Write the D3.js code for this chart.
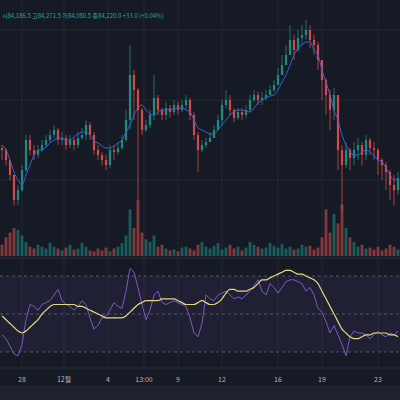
<!DOCTYPE html>
<html><head><meta charset="utf-8">
<script src="https://cdn.jsdelivr.net/npm/d3@7"></script>
<style>body{margin:0;background:#161a25;}svg{display:block;}</style>
</head><body><div id="chart"></div>
<script>
// Price levels (chart units), one candle per step
const closes = [110,100,85,60,70,90,120,110,105,110,115,120,125,130,120,122,115,120,115,122,125,135,125,110,105,100,95,110,108,112,120,140,185,170,150,130,135,145,162,150,145,152,148,155,150,155,160,145,125,110,115,118,122,130,140,155,160,150,142,148,145,150,160,165,160,162,165,170,175,185,195,205,220,210,222,225,230,220,215,200,180,165,150,165,110,95,110,102,110,115,105,120,112,110,100,95,88,75,70,82];
const highs = [115,112,100,85,75,95,125,125,115,115,120,125,130,135,132,128,125,125,122,128,132,140,138,128,115,108,105,115,115,118,125,150,215,190,172,152,140,150,185,165,152,158,155,160,158,160,165,162,148,128,120,122,128,135,145,160,170,165,152,152,152,155,165,170,168,168,170,175,180,192,205,215,235,225,230,235,240,235,225,218,200,182,170,172,150,115,118,112,118,122,118,125,122,118,112,102,98,90,85,88];
const lows = [100,95,80,55,55,68,88,105,100,102,108,112,118,122,115,115,110,112,110,112,120,120,120,105,100,95,90,92,100,105,110,118,130,140,60,125,128,132,140,145,140,140,142,145,145,148,150,140,120,88,108,112,118,125,132,135,152,145,138,140,140,142,148,158,155,155,160,165,168,175,185,195,205,200,208,215,220,212,205,190,160,145,130,140,90,50,92,90,95,100,95,100,105,100,85,80,70,60,55,65];
const priceMA = [115,110,100,88,80,75,85,95,105,110,110,113,117,120,122,122,120,120,123,126,128,128,125,119,117,114,112,112,114,117,120,128,135,145,152,155,150,146,145,148,150,150,150,151,152,152,150,148,140,132,130,128,126,126,130,135,140,145,148,150,150,149,148,152,157,160,162,164,165,170,178,185,195,205,212,215,218,218,210,205,190,178,165,150,140,125,115,108,105,105,108,110,108,104,100,98,92,85,80,82];
const volumes = [12,20,25,30,28,22,15,10,8,12,10,8,14,10,8,6,9,12,7,8,14,10,6,5,8,6,9,5,8,10,14,22,50,30,60,25,18,15,22,10,12,8,6,7,5,9,10,8,6,12,15,10,8,11,14,7,9,12,8,10,6,9,15,12,10,8,9,14,11,9,13,8,10,7,8,12,10,11,7,9,20,50,25,45,35,55,30,20,15,10,12,8,9,7,10,6,8,12,10,7];
const rsi = [39,37,33,29,28,34,47,55,54,52,55,56,57,60,63,57,55,54,52,54,57,55,48,42,44,48,49,52,56,54,53,62,74,72,64,55,47,52,60,62,56,55,56,57,56,55,54,48,40,38,45,60,58,57,60,61,62,60,58,59,58,60,62,65,68,62,60,66,64,61,64,67,68,68,67,66,62,64,60,53,51,46,40,44,39,34,28,38,41,40,40,39,37,39,41,39,38,40,39,41];
const rsiMA = [49,47,45,43,41,40,41,43,45,47,50,52,54,55,55,55,55,55,55,54,54,53,52,51,50,49,48,48,48,48,48,49,51,53,55,56,57,57,57,57,58,58,58,58,57,56,55,55,55,56,57,56,55,55,56,58,61,63,63,62,62,62,63,64,66,68,68,69,70,71,72,73,73,72,71,71,70,69,68,66,62,58,54,50,46,42,40,38,37,37,38,39,39,40,40,40,40,39,39,38];
const timeLabels = ['28','12월','4','13:00','9','12','16','19','23'];
const timeLabelIdx = [5.5,16,27,36,44.5,55.5,69.5,80.5,94.5];
const header = '시84,186.5  고84,271.5  저84,080.5  종84,220.0  +33.0 (+0.04%)';

const W = 400, H = 400;
const up = '#1d8c7e', down = '#d24b49';
const svg = d3.select('#chart').append('svg').attr('width', W).attr('height', H);
svg.append('rect').attr('width', W).attr('height', H).attr('fill', '#161a25');
svg.append('rect').attr('y', 385).attr('width', W).attr('height', 15).attr('fill', '#1e222d');

const x = d3.scaleLinear().domain([0, closes.length]).range([0, 400]);
const y = d3.scaleLinear().domain([0, 260]).range([260, 0]);
const yVol = d3.scaleLinear().domain([0, 60]).range([256, 200]);
const yRsi = d3.scaleLinear().domain([30, 70]).range([352, 276]);
const opens = closes.map((c, i) => i === 0 ? 112 : closes[i - 1]);
const isUp = i => closes[i] >= opens[i];

// grid
svg.append('g').selectAll('line').data(timeLabelIdx).join('line')
  .attr('x1', d => x(d)).attr('x2', d => x(d)).attr('y1', 0).attr('y2', 368)
  .attr('stroke', '#222632');
svg.append('g').selectAll('line').data([80, 160, 230]).join('line')
  .attr('x1', 0).attr('x2', W).attr('y1', d => y(d)).attr('y2', d => y(d))
  .attr('stroke', '#222632');

// volume
svg.append('g').selectAll('rect').data(volumes).join('rect')
  .attr('x', (d, i) => x(i) + 0.6).attr('width', 2.8)
  .attr('y', d => yVol(d)).attr('height', d => 256 - yVol(d))
  .attr('fill', (d, i) => isUp(i) ? up : down).attr('opacity', 0.6);

// candles
const c = svg.append('g').selectAll('g').data(closes).join('g');
c.append('line')
  .attr('x1', (d, i) => x(i + 0.5)).attr('x2', (d, i) => x(i + 0.5))
  .attr('y1', (d, i) => y(highs[i])).attr('y2', (d, i) => y(lows[i]))
  .attr('stroke', (d, i) => isUp(i) ? up : down).attr('stroke-width', 0.8);
c.append('rect')
  .attr('x', (d, i) => x(i) + 0.9).attr('width', 2.2)
  .attr('y', (d, i) => y(Math.max(d, opens[i])))
  .attr('height', (d, i) => Math.max(1, Math.abs(y(d) - y(opens[i]))))
  .attr('fill', (d, i) => isUp(i) ? up : down);

svg.append('path').datum(priceMA)
  .attr('d', d3.line().x((d, i) => x(i + 0.5)).y(d => y(d)).curve(d3.curveMonotoneX))
  .attr('fill', 'none').attr('stroke', '#3b5fd0').attr('stroke-width', 1);

// pane separators
svg.append('line').attr('x1', 0).attr('x2', W).attr('y1', 258).attr('y2', 258).attr('stroke', '#2a2e39');
svg.append('line').attr('x1', 0).attr('x2', W).attr('y1', 368).attr('y2', 368).attr('stroke', '#2a2e39');

// RSI pane
svg.append('rect').attr('x', 0).attr('width', W).attr('y', yRsi(70)).attr('height', yRsi(30) - yRsi(70))
  .attr('fill', '#7e57c2').attr('opacity', 0.1);
svg.append('g').selectAll('line').data([70, 50, 30]).join('line')
  .attr('x1', 0).attr('x2', W).attr('y1', d => yRsi(d)).attr('y2', d => yRsi(d))
  .attr('stroke', '#787b86').attr('stroke-dasharray', '3,3').attr('opacity', 0.6);
svg.append('path').datum(rsi)
  .attr('d', d3.line().x((d, i) => x(i + 0.5)).y(d => yRsi(d)))
  .attr('fill', 'none').attr('stroke', '#7e57c2').attr('stroke-width', 1);
svg.append('path').datum(rsiMA)
  .attr('d', d3.line().x((d, i) => x(i + 0.5)).y(d => yRsi(d)).curve(d3.curveMonotoneX))
  .attr('fill', 'none').attr('stroke', '#e6d87a').attr('stroke-width', 1.2);

// time axis
svg.append('g').selectAll('text').data(timeLabels).join('text')
  .attr('x', (d, i) => x(timeLabelIdx[i])).attr('y', 382)
  .attr('text-anchor', 'middle').attr('fill', '#b2b5be')
  .style('font-family', '"Noto Sans CJK KR", "Noto Sans", sans-serif').style('font-size', '7px')
  .text(d => d);

svg.append('text').attr('x', 2).attr('y', 18)
  .attr('fill', '#26a69a').style('font-family', '"Noto Sans CJK KR", "Noto Sans", sans-serif')
  .style('font-size', '6px').text(header);
</script></body></html>
